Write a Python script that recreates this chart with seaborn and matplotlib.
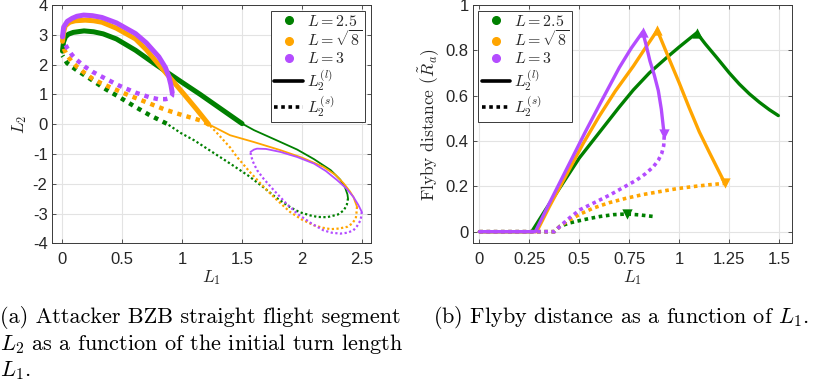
import numpy as np
import pandas as pd
import seaborn as sns
import matplotlib
matplotlib.use("Agg")
import matplotlib.pyplot as plt
from matplotlib.lines import Line2D

# ---------------- data ----------------
L_labels = [r"$L = 2.5$", r"$L = \sqrt{8}$", r"$L = 3$"]
colors = ["#008000", "#FFA500", "#B44CFF"]

# Left panel: L2 vs L1.  "thick" = range also shown in panel (b), "thin" = rest of the curve
# L = 2.5
g_l_thick_x = [0.0, 0.008, 0.025, 0.05, 0.09, 0.18, 0.26, 0.34, 0.45, 0.61, 0.79, 1.0, 1.15, 1.3, 1.5]
g_l_thick_y = [2.45, 2.75, 2.93, 3.02, 3.08, 3.13, 3.10, 3.03, 2.86, 2.48, 1.97, 1.40, 1.0, 0.58, 0.02]
g_l_thin_x = [1.5, 1.6, 1.8, 1.96, 2.1, 2.24, 2.32, 2.36, 2.38, 2.385]
g_l_thin_y = [0.02, -0.2, -0.56, -0.85, -1.17, -1.54, -1.86, -2.12, -2.35, -2.49]
g_s_thin_x = [2.385, 2.375, 2.35, 2.3, 2.21, 2.13, 2.07, 1.98, 1.9, 1.78, 1.68, 1.55, 1.40, 1.25, 1.1, 0.99, 0.87]
g_s_thin_y = [-2.49, -2.7, -2.89, -3.03, -3.12, -3.11, -3.06, -2.95, -2.78, -2.45, -2.12, -1.72, -1.32, -0.93, -0.54, -0.3, 0.02]
g_s_thick_x = [0.87, 0.73, 0.6, 0.47, 0.35, 0.247, 0.17, 0.12, 0.07, 0.038, 0.015, 0.0]
g_s_thick_y = [0.02, 0.3, 0.6, 0.92, 1.2, 1.48, 1.68, 1.81, 1.95, 2.05, 2.2, 2.3]

# L = sqrt(8)
o_l_thick_x = [0.0, 0.01, 0.023, 0.06, 0.107, 0.19, 0.26, 0.33, 0.45, 0.61, 0.7, 0.8, 0.9, 1.01, 1.12, 1.22]
o_l_thick_y = [2.78, 3.1, 3.3, 3.42, 3.47, 3.49, 3.47, 3.42, 3.22, 2.86, 2.5, 2.02, 1.55, 1.03, 0.5, 0.0]
o_l_thin_x = [1.22, 1.40, 1.6, 1.82, 2.0, 2.18, 2.28, 2.35, 2.40, 2.43, 2.46]
o_l_thin_y = [0.0, -0.37, -0.6, -0.87, -1.12, -1.43, -1.7, -1.99, -2.25, -2.44, -2.77]
o_s_thin_x = [2.46, 2.455, 2.45, 2.42, 2.38, 2.31, 2.24, 2.17, 2.1, 2.0, 1.9, 1.78, 1.68, 1.56, 1.458, 1.40, 1.346, 1.28, 1.22]
o_s_thin_y = [-2.77, -3.0, -3.16, -3.33, -3.44, -3.5, -3.52, -3.47, -3.39, -3.2, -2.94, -2.5, -2.1, -1.58, -1.10, -0.78, -0.54, -0.25, 0.0]
o_s_thick_x = [1.22, 1.15, 0.956, 0.85, 0.73, 0.554, 0.45, 0.33, 0.25, 0.19, 0.12, 0.08, 0.04, 0.015, 0.0]
o_s_thick_y = [0.0, 0.13, 0.36, 0.5, 0.69, 0.97, 1.15, 1.36, 1.53, 1.70, 1.93, 2.09, 2.3, 2.5, 2.7]

# L = 3
p_l_thick_x = [0.0, 0.01, 0.04, 0.08, 0.12, 0.177, 0.25, 0.33, 0.45, 0.61, 0.7, 0.805, 0.86, 0.889, 0.905, 0.916]
p_l_thick_y = [2.93, 3.26, 3.45, 3.55, 3.62, 3.66, 3.64, 3.58, 3.40, 3.04, 2.73, 2.26, 1.9, 1.59, 1.33, 1.08]
p_s_thick_x = [0.916, 0.915, 0.9, 0.86, 0.8, 0.73, 0.61, 0.47, 0.33, 0.25, 0.19, 0.12, 0.08, 0.04, 0.023, 0.01]
p_s_thick_y = [1.08, 0.95, 0.88, 0.84, 0.84, 0.9, 1.06, 1.3, 1.59, 1.76, 1.92, 2.15, 2.32, 2.55, 2.68, 2.8]
p_l_thin_x = [1.57, 1.6, 1.625, 1.7, 1.82, 1.96, 2.1, 2.2, 2.295, 2.37, 2.43, 2.47, 2.50]
p_l_thin_y = [-0.93, -0.85, -0.82, -0.83, -0.93, -1.1, -1.32, -1.57, -1.88, -2.15, -2.44, -2.7, -2.94]
p_s_thin_x = [2.50, 2.495, 2.49, 2.46, 2.43, 2.38, 2.32, 2.25, 2.18, 2.08, 1.96, 1.86, 1.764, 1.68, 1.625, 1.59, 1.575, 1.57]
p_s_thin_y = [-2.94, -3.1, -3.22, -3.42, -3.56, -3.64, -3.67, -3.64, -3.56, -3.33, -3.0, -2.62, -2.21, -1.83, -1.54, -1.25, -1.05, -0.93]

# Right panel: flyby distance vs L1
g_R_l_x = [0.0, 0.262, 0.33, 0.40, 0.5, 0.62, 0.7, 0.77, 0.85, 0.937, 1.0, 1.087, 1.13, 1.187, 1.25, 1.30, 1.35, 1.40, 1.45, 1.495]
g_R_l_y = [0.0, 0.0, 0.095, 0.19, 0.325, 0.46, 0.55, 0.625, 0.70, 0.768, 0.815, 0.877, 0.828, 0.768, 0.70, 0.651, 0.608, 0.571, 0.538, 0.512]
o_R_l_x = [0.0, 0.287, 0.35, 0.45, 0.52, 0.6, 0.68, 0.77, 0.83, 0.89, 0.95, 1.0, 1.05, 1.1, 1.15, 1.228]
o_R_l_y = [0.0, 0.0, 0.11, 0.275, 0.39, 0.51, 0.62, 0.73, 0.81, 0.888, 0.76, 0.655, 0.545, 0.44, 0.35, 0.213]
p_R_l_x = [0.0, 0.28, 0.35, 0.45, 0.53, 0.6035, 0.70, 0.76, 0.817, 0.835, 0.853, 0.875, 0.895, 0.91, 0.92, 0.925]
p_R_l_y = [0.0, 0.0, 0.125, 0.30, 0.44, 0.564, 0.724, 0.81, 0.881, 0.82, 0.753, 0.69, 0.622, 0.54, 0.461, 0.43]

g_R_s_x = [0.0, 0.375, 0.4035, 0.45, 0.487, 0.55, 0.6035, 0.67, 0.737, 0.80, 0.87]
g_R_s_y = [0.0, 0.0, 0.024, 0.038, 0.046, 0.058, 0.067, 0.075, 0.078, 0.074, 0.067]
o_R_s_x = [0.0, 0.375, 0.4035, 0.4535, 0.51, 0.57, 0.65, 0.737, 0.82, 0.9035, 0.99, 1.07, 1.15, 1.228]
o_R_s_y = [0.0, 0.0, 0.024, 0.053, 0.08, 0.104, 0.128, 0.148, 0.164, 0.177, 0.19, 0.199, 0.207, 0.213]
p_R_s_x = [0.0, 0.375, 0.4035, 0.45, 0.5035, 0.58, 0.653, 0.72, 0.787, 0.83, 0.87, 0.895, 0.912, 0.922, 0.925]
p_R_s_y = [0.0, 0.0, 0.024, 0.06, 0.097, 0.13, 0.162, 0.195, 0.228, 0.255, 0.286, 0.315, 0.345, 0.38, 0.43]

# triangle markers (peaks = up, ends = down)
up_x = [1.087, 0.89, 0.817]
up_y = [0.877, 0.888, 0.881]
down_x = [0.737, 1.228, 0.925]
down_y = [0.078, 0.213, 0.43]

left_xticks = [0, 0.5, 1, 1.5, 2, 2.5]
left_xticklabels = ["0", "0.5", "1", "1.5", "2", "2.5"]
left_yticks = [-4, -3, -2, -1, 0, 1, 2, 3, 4]
left_yticklabels = ["-4", "-3", "-2", "-1", "0", "1", "2", "3", "4"]
right_xticks = [0, 0.25, 0.5, 0.75, 1, 1.25, 1.5]
right_xticklabels = ["0", "0.25", "0.5", "0.75", "1", "1.25", "1.5"]
right_yticks = [0, 0.2, 0.4, 0.6, 0.8, 1]
right_yticklabels = ["0", "0.2", "0.4", "0.6", "0.8", "1"]

caption_a = ["(a) Attacker BZB straight flight segment",
             r"$L_2$ as a function of the initial turn length",
             r"$L_1$."]
caption_b = r"(b) Flyby distance as a function of $L_1$."

# ---------------- style ----------------
sns.set_theme(style="whitegrid")
plt.rcParams["font.family"] = ["Liberation Sans", "DejaVu Sans"]
plt.rcParams["mathtext.fontset"] = "cm"
plt.rcParams["axes.unicode_minus"] = False

TXT = "#262626"
GRID = "#e3e3e3"
DOT_THICK = (0, (1, 1.15))
DOT_THIN = (0, (1, 1.1))

fig = plt.figure(figsize=(8.17, 3.81), dpi=100)
ax1 = fig.add_axes([0.0633, 0.361, 0.3908, 0.626])
ax2 = fig.add_axes([0.5786, 0.361, 0.3912, 0.626])


def line(ax, x, y, color, lw, ls="-"):
    sns.lineplot(x=x, y=y, ax=ax, color=color, linewidth=lw, linestyle=ls,
                 sort=False, estimator=None, legend=False)


# ----- left panel -----
curves = [
    (g_l_thick_x, g_l_thick_y, g_l_thin_x, g_l_thin_y, g_s_thin_x, g_s_thin_y, g_s_thick_x, g_s_thick_y),
    (o_l_thick_x, o_l_thick_y, o_l_thin_x, o_l_thin_y, o_s_thin_x, o_s_thin_y, o_s_thick_x, o_s_thick_y),
]
for c, (ltx, lty, lnx, lny, snx, sny, stx, sty) in zip(colors[:2], curves):
    line(ax1, lnx, lny, c, 1.3, "-")
    line(ax1, snx, sny, c, 1.6, DOT_THIN)
    line(ax1, ltx, lty, c, 3.6, "-")
    line(ax1, stx, sty, c, 3.2, DOT_THICK)
c = colors[2]
line(ax1, p_l_thin_x, p_l_thin_y, c, 1.3, "-")
line(ax1, p_s_thin_x, p_s_thin_y, c, 1.6, DOT_THIN)
line(ax1, p_l_thick_x, p_l_thick_y, c, 3.6, "-")
line(ax1, p_s_thick_x, p_s_thick_y, c, 3.2, DOT_THICK)

# ----- right panel -----
for c, (lx, ly, sx, sy) in zip(colors, [(g_R_l_x, g_R_l_y, g_R_s_x, g_R_s_y),
                                       (o_R_l_x, o_R_l_y, o_R_s_x, o_R_s_y),
                                       (p_R_l_x, p_R_l_y, p_R_s_x, p_R_s_y)]):
    line(ax2, sx, sy, c, 2.6, (0, (1, 1.0)))
    line(ax2, lx, ly, c, 2.4, "-")

for i, c in enumerate(colors):
    sns.scatterplot(x=[up_x[i]], y=[up_y[i]], ax=ax2, marker="^", s=55, color=c,
                    linewidth=0, legend=False, zorder=5)
    sns.scatterplot(x=[down_x[i]], y=[down_y[i]], ax=ax2, marker="v", s=55, color=c,
                    linewidth=0, legend=False, zorder=5)

# ----- axes styling -----
for ax, xl, yl, xt, xtl, yt, ytl in [
        (ax1, (-0.09, 2.577), (-4, 4), left_xticks, left_xticklabels, left_yticks, left_yticklabels),
        (ax2, (-0.033, 1.565), (-0.052, 1.0), right_xticks, right_xticklabels, right_yticks, right_yticklabels)]:
    ax.set_xlim(*xl)
    ax.set_ylim(*yl)
    ax.set_xticks(xt)
    ax.set_xticklabels(xtl)
    ax.set_yticks(yt)
    ax.set_yticklabels(ytl)
    ax.set_facecolor("white")
    ax.grid(True, color=GRID, linewidth=0.8)
    for sp in ax.spines.values():
        sp.set_color("#3a3a3a")
        sp.set_linewidth(0.7)
        sp.set_visible(True)
    ax.tick_params(direction="in", length=3, width=0.6, color="#3a3a3a",
                   labelsize=12, labelcolor=TXT, top=True, right=True,
                   bottom=True, left=True)
    ax.tick_params(axis="x", pad=6)
    ax.tick_params(axis="y", pad=3)

ax1.set_xlabel(r"$L_1$", fontsize=12.5, color=TXT, labelpad=1)
ax1.set_ylabel(r"$L_2$", fontsize=12.5, color=TXT, labelpad=3)
ax2.set_xlabel(r"$L_1$", fontsize=12.5, color=TXT, labelpad=1)
ax2.set_ylabel(r"Flyby distance ($\tilde{R}_a$)", fontsize=12.5, color=TXT,
               family="cmr10", labelpad=3)

# ----- legends -----
def handles():
    h = [Line2D([], [], marker="o", ls="", color=c, markersize=5.5, label=l)
         for c, l in zip(colors, L_labels)]
    h.append(Line2D([], [], color="black", lw=2.6, ls="-", label=r"$L_2^{(l)}$"))
    h.append(Line2D([], [], color="black", lw=2.6, ls=(0, (1, 1.0)), label=r"$L_2^{(s)}$"))
    return h

for ax, loc in [(ax1, "upper right"), (ax2, "upper left")]:
    leg = ax.legend(handles=handles(), loc=loc, fontsize=11.5, frameon=True,
                    fancybox=False, framealpha=1, edgecolor="#3a3a3a",
                    borderaxespad=0.35, handlelength=1.8, handletextpad=0.25,
                    labelspacing=0.08, borderpad=0.2)
    leg.get_frame().set_linewidth(0.7)

# ----- captions -----
cap_kw = dict(family="cmr10", fontsize=16, color="black", va="baseline", ha="left")
fig.text(0.0, 1 - 323 / 381, caption_a[0], **cap_kw)
fig.text(0.0, 1 - 350 / 381, caption_a[1], **cap_kw)
fig.text(0.0, 1 - 376 / 381, caption_a[2], **cap_kw)
fig.text(433 / 817, 1 - 323 / 381, caption_b, **cap_kw)

fig.savefig("out.png", dpi=100)
